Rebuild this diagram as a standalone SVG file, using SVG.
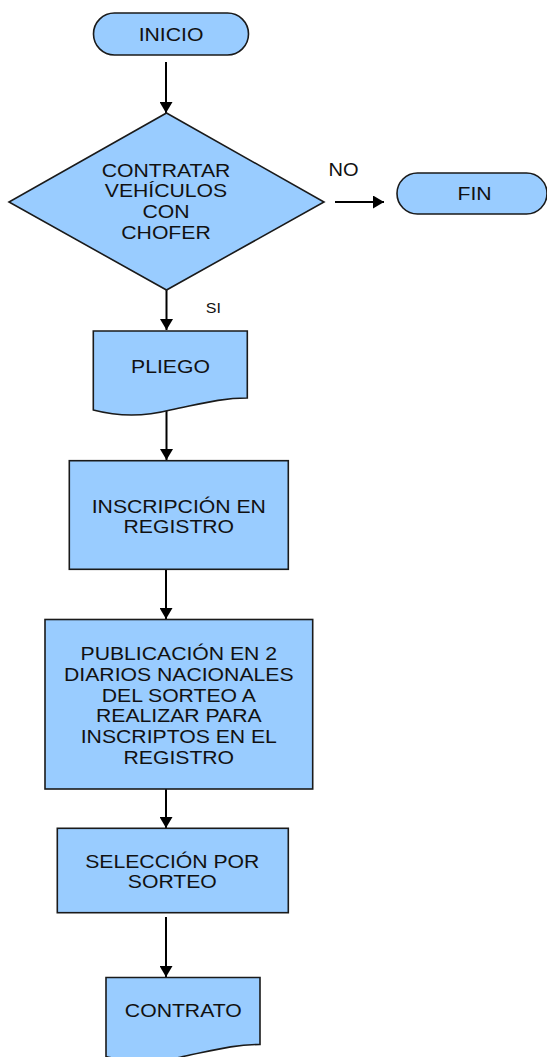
<svg xmlns="http://www.w3.org/2000/svg" width="547" height="1057" viewBox="0 0 547 1057">
<style>
.shape{fill:#99ccff;stroke:#1a1a1a;stroke-width:1.6}
.t{font-family:"Liberation Sans",Arial,sans-serif;font-size:18.5px;fill:#111;text-anchor:middle}
.lbl{font-family:"Liberation Sans",Arial,sans-serif;fill:#111;text-anchor:middle}
.conn{stroke:#000;stroke-width:2;fill:none}
</style>
<defs>
<marker id="ah" markerUnits="userSpaceOnUse" markerWidth="12" markerHeight="13" refX="11" refY="6.5" orient="auto">
<path d="M0,0 L11,6.5 L0,13 z" fill="#000"/>
</marker>
<path id="doc" d="M0,0 H154 V67 C127,67 107,73 77,79 Q38,89 0,79 Z"/>
</defs>
<g id="connectors">
<line class="conn" x1="166" y1="62" x2="166" y2="113" marker-end="url(#ah)"/>
<line class="conn" x1="335" y1="202" x2="384" y2="202" marker-end="url(#ah)"/>
<line class="conn" x1="166.5" y1="290" x2="166.5" y2="330" marker-end="url(#ah)"/>
<line class="conn" x1="166.5" y1="410" x2="166.5" y2="460" marker-end="url(#ah)"/>
<line class="conn" x1="166" y1="569" x2="166" y2="619" marker-end="url(#ah)"/>
<line class="conn" x1="166" y1="789" x2="166" y2="828" marker-end="url(#ah)"/>
<line class="conn" x1="166" y1="917" x2="166" y2="977" marker-end="url(#ah)"/>
<g transform="translate(343.5 0) scale(1.146 1)"><text class="lbl" x="0" y="175.7" font-size="17.5">NO</text></g>
<g transform="translate(213.4 0) scale(1.146 1)"><text class="lbl" x="0" y="312.7" font-size="14">SI</text></g>
</g>
<g id="inicio">
<rect class="shape" x="93.5" y="13" width="155" height="42" rx="21" ry="21"/>
<g transform="translate(171 0) scale(1.146 1)"><text class="t" x="0" y="41">INICIO</text></g>
</g>
<g id="decision">
<polygon class="shape" points="166.5,113 324,202 166.5,290 9,202"/>
<g transform="translate(166 0) scale(1.146 1)">
<text class="t" x="0" y="176.7">CONTRATAR</text>
<text class="t" x="0" y="197.3">VEHÍCULOS</text>
<text class="t" x="0" y="218">CON</text>
<text class="t" x="0" y="239">CHOFER</text>
</g>
</g>
<g id="fin">
<rect class="shape" x="397" y="173" width="150" height="41" rx="20.5" ry="20.5"/>
<g transform="translate(474.5 0) scale(1.146 1)"><text class="t" x="0" y="200" font-size="18">FIN</text></g>
</g>
<g id="pliego">
<use href="#doc" class="shape" transform="translate(93.3 331)"/>
<g transform="translate(170.5 0) scale(1.146 1)"><text class="t" x="0" y="373.3">PLIEGO</text></g>
</g>
<g id="inscripcion">
<rect class="shape" x="69.3" y="460.7" width="219" height="108.6"/>
<g transform="translate(178.8 0) scale(1.146 1)">
<text class="t" x="0" y="512.7">INSCRIPCIÓN EN</text>
<text class="t" x="0" y="532.7">REGISTRO</text>
</g>
</g>
<g id="publicacion">
<rect class="shape" x="45" y="619.5" width="267.7" height="169.5"/>
<g transform="translate(178.8 0) scale(1.146 1)">
<text class="t" x="0" y="660.3">PUBLICACIÓN EN 2</text>
<text class="t" x="0" y="681.2">DIARIOS NACIONALES</text>
<text class="t" x="0" y="701.9">DEL SORTEO A</text>
<text class="t" x="0" y="722.5">REALIZAR PARA</text>
<text class="t" x="0" y="743.1">INSCRIPTOS EN EL</text>
<text class="t" x="0" y="763.8">REGISTRO</text>
</g>
</g>
<g id="seleccion">
<rect class="shape" x="57.3" y="828.3" width="231" height="84.4"/>
<g transform="translate(172.3 0) scale(1.146 1)">
<text class="t" x="0" y="867.7">SELECCIÓN POR</text>
<text class="t" x="0" y="887.7">SORTEO</text>
</g>
</g>
<g id="contrato">
<use href="#doc" class="shape" transform="translate(106 977.5)"/>
<g transform="translate(183.3 0) scale(1.146 1)"><text class="t" x="0" y="1016.7">CONTRATO</text></g>
</g>
</svg>
